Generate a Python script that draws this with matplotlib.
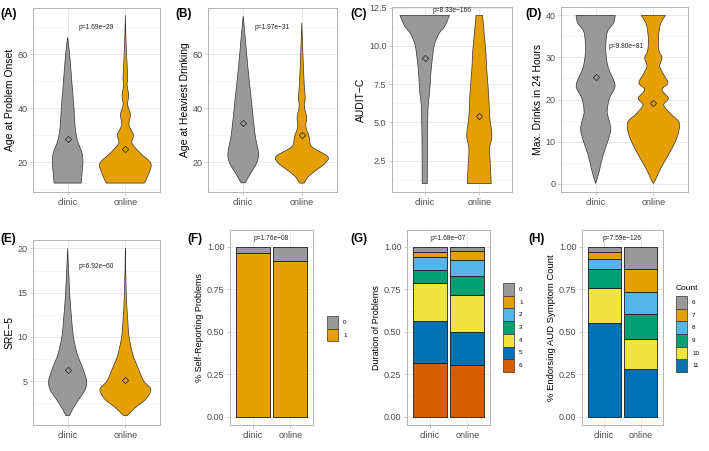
import numpy as np
import matplotlib
matplotlib.use("Agg")
import matplotlib.pyplot as plt
from matplotlib.ticker import MultipleLocator, FormatStrFormatter
from matplotlib.patches import Rectangle, PathPatch
from matplotlib.path import Path

plt.rcParams['font.family'] = ['Liberation Sans', 'DejaVu Sans']

W, H = 709, 451

groups = ['clinic', 'online']
group_colors = ['#999999', '#E69F00']

# === violin outlines (y value, half width in x units) ===
onset_clinic_y = [66.2, 60, 49, 40, 33, 28, 23.3, 19.6, 16, 12.2]
onset_clinic_w = [0, .035, .075, .11, .13, .17, .25, .265, .25, .235]
onset_online_y = [74.4, 61.5, 51.6, 48.5, 44.8, 41.2, 37.5, 33.8, 30, 27, 23.3, 19.6, 16, 12.2]
onset_online_w = [0, .017, .04, .03, .057, .04, .086, .063, .14, .115, .26, .44, .41, .33]
onset_means = [28.6, 24.9]

heavy_clinic_y = [74.1, 67.3, 55.1, 42.9, 30.6, 23.3, 19.6, 15.9, 12.3]
heavy_clinic_w = [0, .03, .08, .14, .2, .26, .23, .13, .035]
heavy_online_y = [71.6, 61.2, 49, 44.1, 40.4, 36.7, 33.1, 29.4, 25.7, 22.1, 19.6, 17.2, 14.7, 12.2]
heavy_online_w = [0, .017, .04, .057, .046, .08, .07, .125, .17, .44, .40, .26, .115, .04]
heavy_means = [34.3, 29.9]

auditc_clinic_y = [12.0, 11.7, 11.25, 10.8, 10.1, 9.2, 8.1, 6.96, 6.28, 5.15, 2.9, 1.0]
auditc_clinic_w = [.455, .42, .36, .26, .18, .14, .11, .09, .067, .055, .048, .048]
auditc_online_y = [12.0, 10.8, 9.67, 8.54, 7.4, 6.28, 5.4, 4.14, 3.34, 2.44, 1.0]
auditc_online_w = [.06, .09, .12, .135, .16, .18, .19, .23, .19, .2, .22]
auditc_means = [9.2, 5.4]

maxdr_clinic_y = [40, 38.2, 36.3, 33.9, 30.7, 27.5, 24.3, 22.7, 20.3, 17.1, 14.7, 12.7, 10, 6.8, 2.8, 0]
maxdr_clinic_w = [.34, .31, .21, .18, .18, .22, .32, .33, .24, .2, .24, .26, .21, .13, .06, 0]
maxdr_online_y = [40, 38.2, 36.3, 33.9, 31.5, 29.9, 27.9, 25.9, 23.9, 22.3, 20.3, 18.7, 16.7,
                  14.7, 12.4, 10, 6.8, 3.7, 1.3, 0]
maxdr_online_w = [.21, .13, .1, .086, .1, .15, .11, .18, .25, .15, .26, .18, .29,
                  .44, .44, .38, .26, .13, .05, 0]
maxdr_means = [25.3, 19.1]

sre_clinic_y = [20, 15, 12, 10, 8, 6.5, 5, 4, 3, 2, 1.1]
sre_clinic_w = [0, .035, .07, .1, .17, .26, .33, .3, .2, .1, .03]
sre_online_y = [20, 15, 12, 10, 8, 6.5, 5, 4.1, 3, 2, 1.1]
sre_online_w = [0, .015, .04, .065, .13, .22, .32, .44, .36, .17, .03]
sre_means = [6.3, 5.1]

# === stacked proportions (levels listed top to bottom) ===
selfrep_levels = ['0', '1']
selfrep_colors = ['#999999', '#E69F00']
selfrep_clinic = [0.034, 0.966]
selfrep_online = [0.085, 0.915]

duration_levels = ['0', '1', '2', '3', '4', '5', '6']
duration_colors = ['#999999', '#E69F00', '#56B4E9', '#009E73', '#F0E442', '#0072B2', '#D55E00']
duration_clinic = [0.028, 0.033, 0.072, 0.077, 0.224, 0.251, 0.315]
duration_online = [0.024, 0.055, 0.091, 0.111, 0.220, 0.196, 0.303]

count_levels = ['6', '7', '8', '9', '10', '11']
count_colors = ['#999999', '#E69F00', '#56B4E9', '#009E73', '#F0E442', '#0072B2']
count_clinic = [0.032, 0.039, 0.060, 0.113, 0.206, 0.550]
count_online = [0.131, 0.136, 0.131, 0.145, 0.176, 0.281]

pvals = ['p=1.69e\u221229', 'p=1.97e\u221231', 'p=8.33e\u2212166', 'p=9.80e\u221281',
         'p=6.92e\u221260', 'p=1.76e\u221208', 'p=1.68e\u221207', 'p=7.59e\u2212126']

fig = plt.figure(figsize=(W / 100, H / 100), dpi=100)


def px_axes(l, t, r, b):
    return fig.add_axes([l / W, 1 - b / H, (r - l) / W, (b - t) / H])


def style(ax, ylim, major, minor, fmt=None, ylabel='', ysize=7.5):
    ax.set_xlim(0.4, 2.6)
    ax.set_ylim(*ylim)
    ax.set_xticks([1, 2])
    ax.set_xticklabels(groups)
    ax.yaxis.set_major_locator(MultipleLocator(major))
    ax.yaxis.set_minor_locator(MultipleLocator(minor))
    if fmt:
        ax.yaxis.set_major_formatter(FormatStrFormatter(fmt))
    ax.set_axisbelow(True)
    ax.grid(which='major', color='#E3E3E3', lw=0.55)
    ax.grid(which='minor', axis='y', color='#F0F0F0', lw=0.4)
    for s in ax.spines.values():
        s.set_color('#B3B3B3')
        s.set_linewidth(0.7)
    ax.tick_params(which='major', color='#B3B3B3', labelcolor='#4D4D4D', labelsize=6.5,
                   length=2.5, width=0.5, pad=1.5)
    ax.tick_params(which='minor', length=0)
    ax.set_ylabel(ylabel, fontsize=ysize, labelpad=2)


def bezier_side(pts):
    # cubic bezier control points through the read points (catmull-rom tangents)
    verts = []
    n = len(pts)
    for i in range(n - 1):
        p0, p1 = pts[max(i - 1, 0)], pts[i]
        p2, p3 = pts[i + 1], pts[min(i + 2, n - 1)]
        verts += [p1 + (p2 - p0) / 6, p2 - (p3 - p1) / 6, p2]
    return verts


def violins(ax, prof, means):
    for i, (ys, ws) in enumerate(prof):
        ys = np.array(ys, float)
        ws = np.array(ws, float)
        c = i + 1
        right = np.column_stack([c + ws, ys])
        left = np.column_stack([c - ws, ys])[::-1]
        verts = [right[0]] + bezier_side(right) + [left[0]] + bezier_side(left) + [right[0]]
        codes = ([Path.MOVETO] + [Path.CURVE4] * (3 * (len(ys) - 1)) + [Path.LINETO]
                 + [Path.CURVE4] * (3 * (len(ys) - 1)) + [Path.CLOSEPOLY])
        ax.add_patch(PathPatch(Path(verts, codes), facecolor=group_colors[i],
                               edgecolor='#333333', lw=0.5, zorder=2))
        ax.plot(c, means[i], marker='D', ms=3.2, mfc='none', mec='#333333',
                mew=0.6, zorder=3)


def stacked(ax, levels, colors, vals):
    for i, v in enumerate(vals):
        bottom = 0
        for k in range(len(levels) - 1, -1, -1):
            ax.bar(i + 1, v[k], bottom=bottom, width=0.9, color=colors[k],
                   edgecolor='#1A1A1A', lw=0.6, zorder=2)
            bottom += v[k]


def key(x, y_top, levels, colors, title=None, kw=11, kh=12.7):
    if title:
        fig.text(x / W, 1 - (y_top - 8) / H, title, fontsize=6, va='center')
    for j, (lab, c) in enumerate(zip(levels, colors)):
        y = y_top + j * kh
        fig.add_artist(Rectangle((x / W, 1 - (y + kh) / H), kw / W, kh / H,
                                 transform=fig.transFigure, facecolor=c,
                                 edgecolor='#333333', lw=0.5))
        fig.text((x + kw + 5) / W, 1 - (y + kh / 2) / H, lab, fontsize=4.5, va='center')


def ptext(ax, x, y, s):
    ax.text(x, y, s, ha='center', va='center', fontsize=4.8, color='#222222', zorder=4)


# === (A) ===
ax = px_axes(33, 8, 160, 192)
style(ax, (8.9, 77.1), 20, 10, ylabel='Age at Problem Onset')
violins(ax, [(onset_clinic_y, onset_clinic_w), (onset_online_y, onset_online_w)], onset_means)
ptext(ax, 1.5, 69.8, pvals[0])

# === (B) ===
ax = px_axes(208, 8, 337, 192)
style(ax, (8.9, 77.1), 20, 10, ylabel='Age at Heaviest Drinking')
violins(ax, [(heavy_clinic_y, heavy_clinic_w), (heavy_online_y, heavy_online_w)], heavy_means)
ptext(ax, 1.5, 69.8, pvals[1])

# === (C) ===
ax = px_axes(392, 7, 512, 192)
style(ax, (0.45, 12.55), 2.5, 1.25, fmt='%.1f', ylabel='AUDIT\u2212C')
violins(ax, [(auditc_clinic_y, auditc_clinic_w), (auditc_online_y, auditc_online_w)], auditc_means)
ptext(ax, 1.5, 12.32, pvals[2])

# === (D) ===
ax = px_axes(561, 7, 688, 192)
style(ax, (-2, 42), 10, 5, ylabel='Max. Drinks in 24 Hours')
violins(ax, [(maxdr_clinic_y, maxdr_clinic_w), (maxdr_online_y, maxdr_online_w)], maxdr_means)
ptext(ax, 1.53, 32.5, pvals[3])

# === (E) ===
ax = px_axes(33, 240, 160, 425)
style(ax, (0.05, 20.95), 5, 2.5, ylabel='SRE\u22125')
violins(ax, [(sre_clinic_y, sre_clinic_w), (sre_online_y, sre_online_w)], sre_means)
ptext(ax, 1.5, 17.9, pvals[4])

# === (F) ===
ax = px_axes(230, 230, 313, 425)
style(ax, (-0.05, 1.1), 0.25, 0.125, fmt='%.2f', ylabel='% Self-Reporting Problems', ysize=6.5)
stacked(ax, selfrep_levels, selfrep_colors, [selfrep_clinic, selfrep_online])
ptext(ax, 1.5, 1.05, pvals[5])
key(327, 316, selfrep_levels, selfrep_colors)

# === (G) ===
ax = px_axes(407, 230, 490, 425)
style(ax, (-0.05, 1.1), 0.25, 0.125, fmt='%.2f', ylabel='Duration of Problems', ysize=6.5)
stacked(ax, duration_levels, duration_colors, [duration_clinic, duration_online])
ptext(ax, 1.5, 1.05, pvals[6])
key(503, 283, duration_levels, duration_colors)

# === (H) ===
ax = px_axes(582, 230, 663, 425)
style(ax, (-0.05, 1.1), 0.25, 0.125, fmt='%.2f', ylabel='% Endorsing AUD Symptom Count', ysize=6.8)
stacked(ax, count_levels, count_colors, [count_clinic, count_online])
ptext(ax, 1.5, 1.05, pvals[7])
key(676, 296, count_levels, count_colors, title='Count')

# panel tags
for tag, x, y in [('(A)', 0, 14), ('(B)', 175, 14), ('(C)', 350, 14), ('(D)', 525, 14),
                  ('(E)', 0, 239), ('(F)', 187, 239), ('(G)', 350, 239), ('(H)', 528, 239)]:
    fig.text(x / W, 1 - y / H, tag, fontsize=8.5, fontweight='bold', va='center')

fig.savefig('out.png', dpi=100)
